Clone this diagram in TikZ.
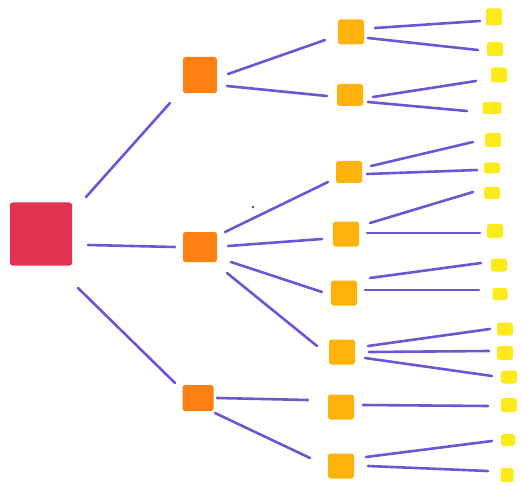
\documentclass[tikz,border=0pt]{standalone}
\definecolor{rootred}{RGB}{226,50,82}
\definecolor{midorange}{RGB}{255,128,18}
\definecolor{leafamber}{RGB}{255,178,10}
\definecolor{tipyellow}{RGB}{252,234,26}
\definecolor{inkpurple}{RGB}{112,84,214}
\begin{document}
\begin{tikzpicture}[x=1pt,y=-1pt,
  box/.style={rectangle, inner sep=0pt, outer sep=0pt, rounded corners=2.5pt},
  rootbox/.style={box, fill=rootred, minimum width=62pt, minimum height=63pt},
  midbox/.style={box, fill=midorange, minimum width=34pt, minimum height=32pt},
  leafbox/.style={box, fill=leafamber, minimum width=26pt, minimum height=25pt},
  tipbox/.style={box, fill=tipyellow, minimum width=16pt, minimum height=14pt},
  link/.style={draw=inkpurple, line width=2.6pt, line cap=round}]
\useasboundingbox (0,0) rectangle (521,486);

% root
\node[rootbox] (r) at (41,234) {};

% first level
\node[midbox, minimum height=36pt] (a) at (200,75) {};
\node[midbox, minimum height=30pt] (b) at (200,247) {};
\node[midbox, minimum width=31pt, minimum height=26pt] (c) at (198,398) {};

% second level
\node[leafbox] (l1) at (351,32) {};
\node[leafbox, minimum height=22pt] (l2) at (350,95) {};
\node[leafbox, minimum height=22pt] (l3) at (349,172) {};
\node[leafbox] (l4) at (346,234) {};
\node[leafbox] (l5) at (344,293) {};
\node[leafbox] (l6) at (342,352) {};
\node[leafbox] (l7) at (341,407) {};
\node[leafbox] (l8) at (341,466) {};

% third level
\node[tipbox, minimum height=17pt] (t1) at (494,17) {};
\node[tipbox] (t2) at (495,49) {};
\node[tipbox, minimum height=15pt] (t3) at (499,75) {};
\node[tipbox, minimum width=19pt, minimum height=12pt] (t4) at (492,108) {};
\node[tipbox] (t5) at (493,140) {};
\node[tipbox, minimum height=11pt] (t6) at (492,168) {};
\node[tipbox, minimum height=12pt] (t7) at (492,193) {};
\node[tipbox] (t8) at (495,231) {};
\node[tipbox, minimum height=13pt] (t9) at (499,265) {};
\node[tipbox, minimum width=15pt, minimum height=12pt] (t10) at (500,294) {};
\node[tipbox, minimum height=13pt] (t11) at (505,329) {};
\node[tipbox] (t12) at (505,353) {};
\node[tipbox, minimum height=13pt] (t13) at (509,377) {};
\node[tipbox] (t14) at (509,405) {};
\node[tipbox, minimum width=14pt, minimum height=12pt] (t15) at (508,440) {};
\node[tipbox, minimum width=13pt] (t16) at (507,475) {};

% stray ink speck
\fill[black!70] (253,207) circle (1.3pt);

% connectors: root to first level
\draw[link] ([shift={(14,-37)}]r.east) -- ([shift={(-13,28)}]a.west);
\draw[link] ([shift={(16,11)}]r.east) -- ([shift={(-8,0)}]b.west);
\draw[link] ([shift={(6,54)}]r.east) -- ([shift={(-7.5,-15)}]c.west);

% first level to second level
\draw[link] ([shift={(11,-1)}]a.east) -- ([shift={(-13,8)}]l1.west);
\draw[link] ([shift={(10,11)}]a.east) -- ([shift={(-10,1)}]l2.west);
\draw[link] ([shift={(8,-15)}]b.east) -- ([shift={(-8,10)}]l3.west);
\draw[link] ([shift={(11,-1)}]b.east) -- ([shift={(-11,5)}]l4.west);
\draw[link] ([shift={(14,15)}]b.east) -- ([shift={(-9,-1)}]l5.west);
\draw[link] ([shift={(10,26)}]b.east) -- ([shift={(-12,-6)}]l6.west);
\draw[link] ([shift={(3.5,0)}]c.east) -- ([shift={(-20,-7)}]l7.west);
\draw[link] ([shift={(1.5,15)}]c.east) -- ([shift={(-18,-8)}]l8.west);

% second level to third level
\draw[link] ([shift={(11,-4)}]l1.east) -- ([shift={(-6,4)}]t1.west);
\draw[link] ([shift={(4,6)}]l1.east) -- ([shift={(-9,1)}]t2.west);
\draw[link] ([shift={(10,2)}]l2.east) -- ([shift={(-15,6)}]t3.west);
\draw[link] ([shift={(5,7)}]l2.east) -- ([shift={(-15.5,3)}]t4.west);
\draw[link] ([shift={(9,-6)}]l3.east) -- ([shift={(-12,2)}]t5.west);
\draw[link] ([shift={(5,2)}]l3.east) -- ([shift={(-7,2)}]t6.west);
\draw[link] ([shift={(11,-11)}]l4.east) -- ([shift={(-11,-1)}]t7.west);
\draw[link] ([shift={(8,-1)}]l4.east) -- ([shift={(-7,2)}]t8.west);
\draw[link] ([shift={(13,-15)}]l5.east) -- ([shift={(-10,-2)}]t9.west);
\draw[link] ([shift={(8,-3)}]l5.east) -- ([shift={(-13.5,-4)}]t10.west);
\draw[link] ([shift={(13,-6)}]l6.east) -- ([shift={(-7,0)}]t11.west);
\draw[link] ([shift={(14,0)}]l6.east) -- ([shift={(-8,-2)}]t12.west);
\draw[link] ([shift={(10,6)}]l6.east) -- ([shift={(-9,-1)}]t13.west);
\draw[link] ([shift={(9,-2)}]l7.east) -- ([shift={(-13,1)}]t14.west);
\draw[link] ([shift={(12,-9)}]l8.east) -- ([shift={(-9,1)}]t15.west);
\draw[link] ([shift={(14,0)}]l8.east) -- ([shift={(-12.5,-4)}]t16.west);
\end{tikzpicture}
\end{document}
